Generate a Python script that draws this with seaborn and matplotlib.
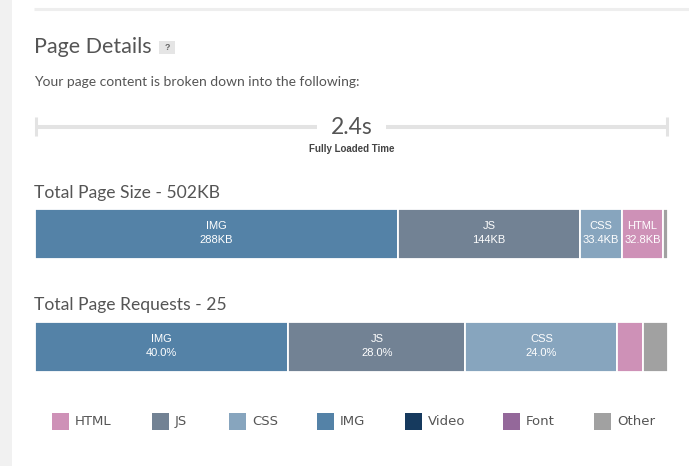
import matplotlib
matplotlib.use('Agg')
import matplotlib.pyplot as plt
from matplotlib.patches import Rectangle
import seaborn as sns
import pandas as pd

# Data
load_time_s = 2.4
size_types = ['IMG', 'JS', 'CSS', 'HTML', 'Other']
size_kb = [288, 144, 33.4, 32.8, 3.8]
total_size_kb = 502
req_types = ['IMG', 'JS', 'CSS', 'HTML', 'Other']
req_counts = [10, 7, 6, 1, 1]
legend_types = ['HTML', 'JS', 'CSS', 'IMG', 'Video', 'Font', 'Other']

type_colors = {
    'HTML': '#ce91b7',
    'JS': '#728294',
    'CSS': '#87a5be',
    'IMG': '#5482a7',
    'Video': '#163a5e',
    'Font': '#94689a',
    'Other': '#a1a1a1',
}

W, H = 689, 466
text_gray = '#555555'
head_font = ['Lato', 'DejaVu Sans']
label_font = ['Liberation Sans', 'DejaVu Sans']

sns.set_theme(style='white')
plt.rcParams['font.family'] = ['Lato', 'DejaVu Sans']

fig = plt.figure(figsize=(W / 100, H / 100), dpi=100, facecolor='white')

# background axes in pixel coordinates for the page furniture
bg = fig.add_axes([0, 0, 1, 1])
bg.set_xlim(0, W)
bg.set_ylim(H, 0)
bg.axis('off')

bg.add_patch(Rectangle((0, 0), 12, H, color='#f1f1f1', lw=0))
bg.plot([34, W], [8.5, 8.5], color='#eeeeee', lw=2.2, solid_capstyle='butt')

bg.text(34, 47, 'Page Details', fontsize=15.5, color=text_gray,
        va='center', ha='left', family=head_font)
bg.add_patch(Rectangle((159, 41), 16, 13, color='#e5e5e5', lw=0))
bg.text(167, 47.5, '?', fontsize=6.5, color='#666666', weight='bold',
        va='center', ha='center', family=label_font)
bg.text(34, 82, 'Your page content is broken down into the following:',
        fontsize=10, color=text_gray, va='center', ha='left', family=head_font)

# fully loaded timeline
line_col = '#e3e3e3'
bg.plot([35, 317], [127, 127], color=line_col, lw=2.9, solid_capstyle='butt')
bg.plot([386, 668], [127, 127], color=line_col, lw=2.9, solid_capstyle='butt')
bg.plot([36, 36], [117, 136], color=line_col, lw=2.2, solid_capstyle='butt')
bg.plot([667, 667], [117, 136], color=line_col, lw=2.2, solid_capstyle='butt')
bg.text(352, 127, f'{load_time_s}s', fontsize=16.5, color=text_gray,
        va='center', ha='center', family=head_font)
bg.text(352, 149, 'Fully Loaded Time', fontsize=7, color='#444444',
        weight='bold', va='center', ha='center', family=label_font)

bg.text(34, 193, f'Total Page Size - {total_size_kb}KB', fontsize=12.6,
        color=text_gray, va='center', ha='left', family=head_font)
bg.text(34, 305, f'Total Page Requests - {sum(req_counts)}', fontsize=12.6,
        color=text_gray, va='center', ha='left', family=head_font)

# legend
legend_x = [52, 152, 229, 317, 405, 503, 594]
for name, x in zip(legend_types, legend_x):
    bg.add_patch(Rectangle((x, 413), 17, 17, color=type_colors[name], lw=0))
    bg.text(x + 23, 421.5, name, fontsize=9.5, color=text_gray,
            va='center', ha='left', family=['DejaVu Sans'])


def stacked_bar(ax, types, values, labels):
    total = sum(values)
    df = pd.DataFrame({'type': types, 'value': values})
    start = 0
    for _, row in df.iterrows():
        sns.barplot(x=[row['value']], y=[0], left=start, orient='h',
                    color=type_colors[row['type']], saturation=1, width=1,
                    errorbar=None, edgecolor='white', linewidth=1.3, ax=ax)
        start += row['value']
    start = 0
    for name, val, lab in zip(types, values, labels):
        if val / total > 0.05:
            ax.text(start + val / 2, -0.02, f'{name}\n{lab}', color='white',
                    fontsize=8, ha='center', va='center', linespacing=1.5,
                    family=label_font)
        start += val
    ax.set_xlim(0, total)
    ax.set_ylim(0.5, -0.5)
    ax.axis('off')


ax_size = fig.add_axes([35 / W, 1 - 259 / H, 633 / W, 50 / H])
stacked_bar(ax_size, size_types, size_kb, [f'{v:g}KB' for v in size_kb])

ax_req = fig.add_axes([35 / W, 1 - 372 / H, 633 / W, 50 / H])
req_total = sum(req_counts)
stacked_bar(ax_req, req_types, req_counts,
            [f'{100 * c / req_total:.1f}%' for c in req_counts])

fig.savefig('out.png', dpi=100, facecolor='white')
